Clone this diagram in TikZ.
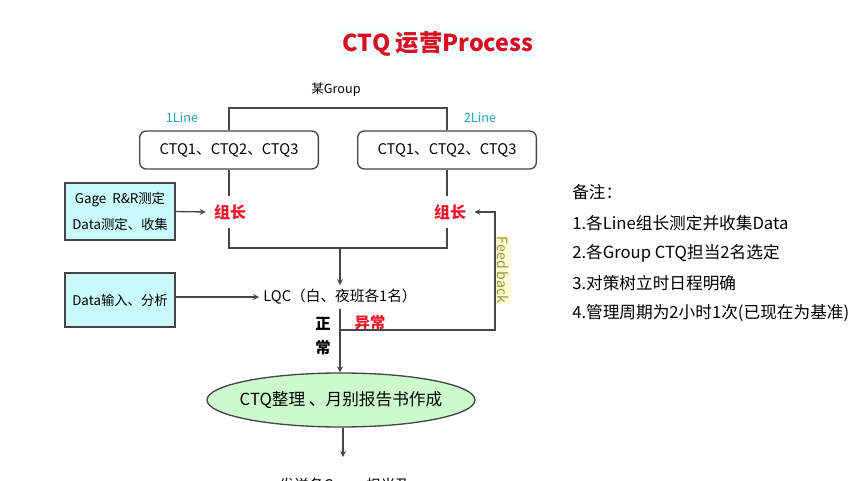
\documentclass[tikz,border=0pt]{standalone}
\usepackage{fontspec}
\setmainfont{Noto Sans CJK SC}
\usetikzlibrary{shapes.geometric}

\definecolor{linegray}{RGB}{70,70,70}
\definecolor{titlered}{RGB}{215,15,35}
\definecolor{leadred}{RGB}{240,20,40}
\definecolor{lineteal}{RGB}{30,165,180}
\definecolor{boxcyan}{RGB}{200,250,252}
\definecolor{ellgreen}{RGB}{205,250,205}
\definecolor{fbolive}{RGB}{150,150,60}
\definecolor{fbyellow}{RGB}{252,252,210}

\begin{document}
\begin{tikzpicture}[x=0.75pt,y=-0.75pt,>=stealth,
  flow/.style={draw=linegray,line width=1pt},
  ctqbox/.style={draw=linegray,line width=1pt,rounded corners=5pt,
    minimum width=134pt,minimum height=28.5pt,font=\fontsize{11}{12}\selectfont},
  inbox/.style={draw=linegray,line width=1pt,fill=boxcyan,align=center,
    minimum width=82.5pt,inner sep=1pt,font=\fontsize{10}{19.5}\selectfont},
  lead/.style={text=leadred,font=\bfseries\fontsize{12}{14}\selectfont},
  plain/.style={font=\fontsize{11}{12}\selectfont},
  note/.style={anchor=west,inner sep=0pt,font=\fontsize{12.5}{14}\selectfont}]
\clip (0,0) rectangle (858,481);

%title
\node[fill=cyan!4,inner sep=2pt,text=titlered,font=\bfseries\fontsize{17.5}{19}\selectfont] (title) at (438,44) {CTQ 运营Process};

%group and lines
\node[font=\fontsize{9.5}{11}\selectfont] (grp) at (336,90) {某Group};
\node[text=lineteal,font=\fontsize{9.5}{11}\selectfont] (line1) at (182,118) {1Line};
\node[text=lineteal,font=\fontsize{9.5}{11}\selectfont] (line2) at (480,118) {2Line};
\node[ctqbox] (ctqA) at (229,150) {CTQ1、CTQ2、CTQ3};
\node[ctqbox] (ctqB) at (447,150) {CTQ1、CTQ2、CTQ3};
\draw[flow] (ctqA.north) -- (ctqA.north |- 0,108) -| (ctqB.north);

%team leaders
\node[lead,inner sep=6pt] (leadA) at (230,212) {组长};
\node[lead,inner sep=6pt] (leadB) at (450,212) {组长};
\coordinate (join) at (340,248);
\draw[flow] (ctqA.south) -- (ctqA.south |- leadA.north);
\draw[flow] (ctqB.south) -- (ctqB.south |- leadB.north);
\draw[flow] (ctqA.south |- leadA.south) |- (join);
\draw[flow] (ctqB.south |- leadB.south) |- (join);

%inputs
\node[inbox,minimum height=42.75pt] (gage) at (120,211.5) {Gage\ \ R\&R测定\\Data测定、收集};
\node[inbox,minimum height=40.5pt] (data) at (120,300) {Data输入、分析};
\draw[flow,->] (gage.east) -- (leadA.west);

%LQC
\node[plain,inner sep=3pt] (lqc) at (340,297) {LQC（白、夜班各1名）};
\draw[flow,->] (join) -- (lqc.north -| join);
\draw[flow,->] (data.east |- lqc.west) -- (lqc.west);

\node[font=\bfseries\fontsize{11.5}{18}\selectfont,align=center] (normal) at (323,336) {正\\常};
\node[lead,font=\bfseries\fontsize{11.5}{13}\selectfont] (abn) at (370,323) {异常};

%CTQ report
\node[ellipse,draw=linegray,line width=1pt,fill=ellgreen,minimum width=201pt,minimum height=40.5pt,
  inner xsep=-8pt,font=\fontsize{12.5}{14}\selectfont] (ctqEll) at (341,400) {CTQ整理 、月别报告书作成};
\draw[flow,->] (lqc.south -| join) -- (ctqEll.north -| join);

%feedback
\coordinate (fb) at (495,330);
\draw[flow,->] (join |- fb) -- (fb) |- (leadB.east);
\node[rotate=-90,fill=fbyellow,text=fbolive,inner sep=1pt,font=\fontsize{10.5}{11}\selectfont] (fbtext) at (503,270) {Feed back};

%sending
\coordinate (sendTop) at (343,457);
\draw[flow,->] (ctqEll.south -| sendTop) -- (sendTop);
\node[plain] (send) at (345,486) {发送各Group担当及};

%remarks
\node[note] (note0) at (572,192) {备注：};
\node[note] (note1) at (572,223) {1.各Line组长测定并收集Data};
\node[note] (note2) at (572,253) {2.各Group CTQ担当2名选定};
\node[note] (note3) at (572,283) {3.对策树立时日程明确};
\node[note] (note4) at (572,313) {4.管理周期为2小时1次(已现在为基准)};

\end{tikzpicture}
\end{document}
